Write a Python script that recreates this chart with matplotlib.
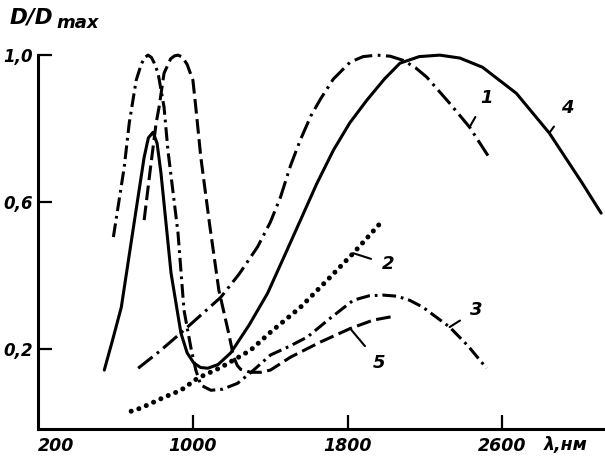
import matplotlib.pyplot as plt

# wavelength, nm / normalised optical density D/Dmax
c1_x = [717, 830, 938, 1040, 1144, 1240, 1334, 1400, 1453, 1505, 1556, 1610, 1659, 1726, 1813, 1880, 1952, 2020,
        2086, 2150, 2209, 2327, 2430, 2533]
c1_y = [0.148, 0.195, 0.244, 0.292, 0.341, 0.405, 0.478, 0.545, 0.614, 0.700, 0.770, 0.835, 0.880, 0.935, 0.981,
        0.996, 1.0, 0.997, 0.986, 0.966, 0.940, 0.869, 0.804, 0.720]

c2_x = [681, 733, 851, 938, 1025, 1144, 1298, 1401, 1556, 1695, 1829, 1983]
c2_y = [0.031, 0.040, 0.069, 0.088, 0.121, 0.150, 0.197, 0.246, 0.314, 0.388, 0.461, 0.551]

c3_x = [589, 645, 671, 707, 733, 750, 768, 785, 799, 820, 851, 871, 923, 954, 990, 1015, 1041,
        1093, 1154, 1231, 1314, 1401, 1500, 1592, 1700, 1829, 1910, 1983, 2055, 2120, 2189, 2327, 2420, 2518]
c3_y = [0.505, 0.695, 0.815, 0.932, 0.975, 0.993, 1.0, 0.994, 0.98, 0.951, 0.858, 0.741, 0.516, 0.306, 0.203,
        0.143, 0.102, 0.088, 0.091, 0.107, 0.143, 0.184, 0.208, 0.233, 0.280, 0.333, 0.345, 0.347, 0.344,
        0.333, 0.314, 0.260, 0.210, 0.148]

c4_x = [542, 585, 630, 696, 748, 770, 794, 815, 835, 887, 938, 970, 1005, 1040, 1077, 1130, 1196, 1290, 1386,
        1470, 1556, 1640, 1726, 1810, 1900, 1990, 2070, 2170, 2276, 2380, 2497, 2672, 2842, 3012, 3110]
c4_y = [0.143, 0.225, 0.314, 0.543, 0.722, 0.775, 0.790, 0.760, 0.679, 0.407, 0.244, 0.190, 0.162, 0.150,
        0.148, 0.158, 0.190, 0.265, 0.352, 0.450, 0.551, 0.650, 0.741, 0.815, 0.878, 0.935, 0.978, 0.996, 1.0,
        0.992, 0.967, 0.896, 0.788, 0.652, 0.570]

c5_x = [748, 780, 810, 825, 851, 885, 905, 923, 945, 970, 1000, 1015, 1041, 1087, 1134, 1185, 1211, 1230, 1247,
        1298, 1350, 1401, 1504, 1658, 1813, 1932, 2035]
c5_y = [0.551, 0.690, 0.815, 0.858, 0.951, 0.99, 0.998, 1.0, 0.995, 0.975, 0.932, 0.858, 0.722, 0.537, 0.361,
        0.243, 0.178, 0.155, 0.145, 0.137, 0.137, 0.143, 0.178, 0.219, 0.256, 0.279, 0.289]

xticks = [200, 1000, 1800, 2600]
xlabels = ['200', '1000', '1800', '2600']
yticks = [0.2, 0.6, 1.0]
ylabels = ['0,2', '0,6', '1,0']

fig = plt.figure(figsize=(6.05, 4.57), dpi=100)
ax = fig.add_axes([0.063, 0.061, 0.937, 0.939])

lw = 2.2
ax.plot(c4_x, c4_y, color='black', lw=lw, solid_capstyle='round', solid_joinstyle='round')
ax.plot(c1_x, c1_y, color='black', lw=lw, ls=(0, (6, 1.8, 0.9, 1.8)))
ax.plot(c3_x, c3_y, color='black', lw=lw, ls=(0, (4.5, 1.6, 0.9, 1.6)))
ax.plot(c5_x, c5_y, color='black', lw=lw, ls=(0, (4.8, 1.8)))
ax.plot(c2_x, c2_y, color='black', lw=3.6, ls=(0, (0.01, 1.6)), dash_capstyle='round')

# curve numbers with short leader lines
lab = dict(fontsize=13, fontstyle='italic', fontweight='bold', ha='center', va='center')
arrow = dict(arrowstyle='-', lw=1.5, color='black', shrinkA=6, shrinkB=0)
ax.annotate('1', xy=(c1_x[22], c1_y[22]), xytext=(12, 21), textcoords='offset points', arrowprops=arrow, **lab)
ax.annotate('2', xy=(c2_x[10], c2_y[10]), xytext=(25, -8), textcoords='offset points', arrowprops=arrow, **lab)
ax.annotate('3', xy=(c3_x[31], c3_y[31]), xytext=(19, 12), textcoords='offset points', arrowprops=arrow, **lab)
ax.annotate('4', xy=(c4_x[32], c4_y[32]), xytext=(13, 18), textcoords='offset points', arrowprops=arrow, **lab)
ax.annotate('5', xy=(c5_x[24], c5_y[24]), xytext=(21, -25), textcoords='offset points', arrowprops=arrow, **lab)

ax.set_xlim(200, 3130)
ax.set_ylim(-0.0177, 1.15)
for s in ['top', 'right']:
    ax.spines[s].set_visible(False)
ax.spines['left'].set_linewidth(2.2)
ax.spines['bottom'].set_linewidth(2.2)
ax.spines['left'].set_bounds(-0.0177, 1.0)

ax.set_xticks(xticks[1:])
ax.set_xticklabels(xlabels[1:], fontsize=12.5, fontstyle='italic', fontweight='bold')
ax.set_yticks(yticks)
ax.set_yticklabels(ylabels, fontsize=12, fontstyle='italic', fontweight='bold')
ax.tick_params(axis='x', direction='in', length=10, width=1.6, pad=6)
ax.tick_params(axis='y', direction='in', length=10, width=1.6, pad=4)
ax.text(xticks[0], -0.04, xlabels[0], fontsize=12.5, fontstyle='italic',
        fontweight='bold', ha='left', va='top')

fig.text(0.015, 0.962, 'D/D', fontsize=15.5, fontstyle='italic', fontweight='bold', va='center')
fig.text(0.093, 0.950, 'max', fontsize=13, fontstyle='italic', fontweight='bold', va='center')
fig.text(0.935, 0.027, 'λ,нм', fontsize=12.5, fontstyle='italic', fontweight='bold', ha='center', va='center')

fig.savefig('out.png', dpi=100)
